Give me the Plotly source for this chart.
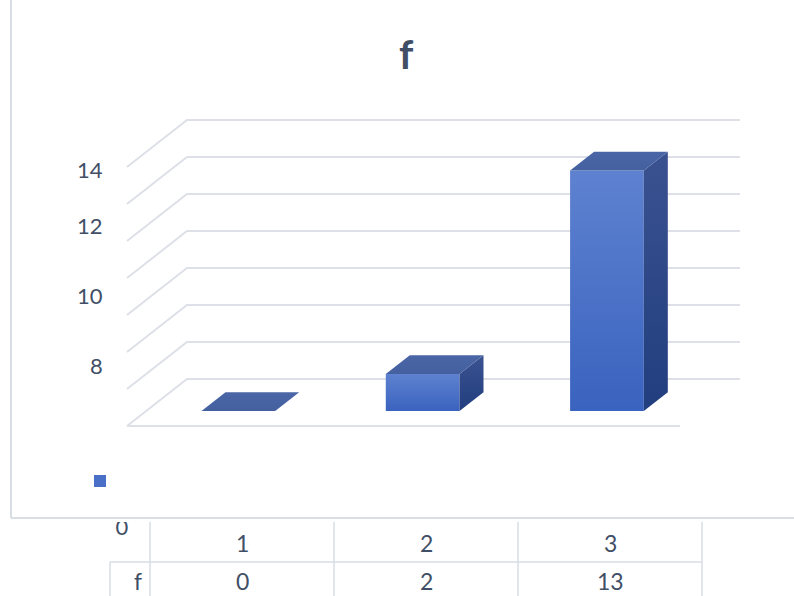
import plotly.graph_objects as go

# ---------------- data ----------------
categories = ["1", "2", "3"]
series_name = "f"
values = [0, 2, 13]
grid_values = [0, 2, 4, 6, 8, 10, 12, 14]
tick_labels = ["14", "12", "10", "8"]
table_header = "0"

# ---------------- style / geometry ----------------
W, H = 794, 596
PX_X = 184.3          # pixels per category
PX_Y = 18.5           # pixels per value unit
ORIGIN = (127, 426)   # pixel of floor front-left corner
DDX = 60 / PX_X       # depth offset (category units) of the back wall
DDY = 47 / PX_Y       # depth offset (value units) of the back wall
D0, D1 = 0.32, 0.72   # bar depth front/back (fraction of floor depth)
BW = 0.4              # bar width (category units)
GRID = "#DDE0E7"
TXT = "#414F66"
FONT = "Lato"
tick_label_py = [169, 226, 296, 366]

def proj(x, v, d):
    return x + d * DDX, v + d * DDY

fig = go.Figure()

# gridlines: back wall and left side wall
for g in grid_values:
    xa, ya = proj(0, g, 1)
    xb, yb = proj(len(categories), g, 1)
    xs, ys = proj(0, g, 0)
    fig.add_trace(go.Scatter(x=[xs, xa, xb], y=[ys, ya, yb], mode="lines",
                             line=dict(color=GRID, width=2), hoverinfo="skip",
                             showlegend=False))
# floor front edge
fig.add_trace(go.Scatter(x=[0, len(categories)], y=[0, 0], mode="lines",
                         line=dict(color=GRID, width=2), hoverinfo="skip",
                         showlegend=False))

def poly(pts, grad):
    xs = [p[0] for p in pts] + [pts[0][0]]
    ys = [p[1] for p in pts] + [pts[0][1]]
    return go.Scatter(x=xs, y=ys, mode="lines", fill="toself",
                      line=dict(width=0, color=grad[-1][1]),
                      fillgradient=dict(type="vertical", colorscale=grad),
                      hoverinfo="skip", showlegend=False)

FRONT = [[0, "#3A63BF"], [1, "#5E82D0"]]
TOP = [[0, "#44609F"], [1, "#4B66A6"]]
SIDE = [[0, "#213E7E"], [1, "#3B5290"]]

for i, v in enumerate(values):
    xl = i + 0.5 - BW / 2
    xr = i + 0.5 + BW / 2
    if v > 0:
        fig.add_trace(poly([proj(xl, 0, D0), proj(xr, 0, D0), proj(xr, v, D0), proj(xl, v, D0)], FRONT))
        fig.add_trace(poly([proj(xr, 0, D0), proj(xr, 0, D1), proj(xr, v, D1), proj(xr, v, D0)], SIDE))
    fig.add_trace(poly([proj(xl, v, D0), proj(xr, v, D0), proj(xr, v, D1), proj(xl, v, D1)], TOP))

# clipped header "0" of the data table (second, pixel-based subplot)
fig.add_trace(go.Scatter(x=[122], y=[529], mode="text", text=[table_header],
                         textfont=dict(family=FONT, size=22, color=TXT),
                         cliponaxis=True, xaxis="x2", yaxis="y2",
                         hoverinfo="skip", showlegend=False))

x0 = -ORIGIN[0] / PX_X
x1 = (W - ORIGIN[0]) / PX_X
y0 = (ORIGIN[1] - H) / PX_Y
y1 = ORIGIN[1] / PX_Y

def py(p):
    return 1 - p / H

def px(p):
    return p / W

def txt(text, x, y, size, xanchor="center"):
    return dict(text=text, x=px(x), y=py(y), xref="paper", yref="paper",
                xanchor=xanchor, yanchor="middle", showarrow=False,
                font=dict(family=FONT, size=size, color=TXT))

annotations = [txt("<b>" + series_name + "</b>", 406, 54, 40)]
for lab, p in zip(tick_labels, tick_label_py):
    annotations.append(txt(lab, 105, p, 22, "right"))
# data table
col_edges = [150, 334, 518, 702]
for j, c in enumerate(categories):
    cx = (col_edges[j] + col_edges[j + 1]) / 2
    annotations.append(txt(c, cx, 543, 23))
    annotations.append(txt(str(values[j]), cx, 581, 23))
annotations.append(txt(series_name, 144, 581, 23, "right"))

shapes = []
LC = "#D9DDE4"
for e in col_edges:
    shapes.append(dict(type="line", xref="paper", yref="paper", x0=px(e), x1=px(e), y0=py(522), y1=py(600),
                       line=dict(color=LC, width=1.5)))
shapes.append(dict(type="line", xref="paper", yref="paper", x0=px(110), x1=px(702), y0=py(562), y1=py(562),
                   line=dict(color=LC, width=1.5)))
shapes.append(dict(type="line", xref="paper", yref="paper", x0=px(110), x1=px(110), y0=py(562), y1=py(600),
                   line=dict(color=LC, width=1.5)))
# chart area border
shapes.append(dict(type="line", xref="paper", yref="paper", x0=px(11), x1=px(11), y0=py(-5), y1=py(518),
                   line=dict(color=LC, width=2)))
shapes.append(dict(type="line", xref="paper", yref="paper", x0=px(11), x1=px(800), y0=py(518), y1=py(518),
                   line=dict(color=LC, width=2)))
# legend key
shapes.append(dict(type="rect", xref="paper", yref="paper", x0=px(94), x1=px(106), y0=py(487), y1=py(475),
                   fillcolor="#4A6FC6", line=dict(width=0)))

fig.update_layout(
    width=W, height=H, margin=dict(l=0, r=0, t=0, b=0),
    paper_bgcolor="white", plot_bgcolor="rgba(0,0,0,0)",
    xaxis=dict(range=[x0, x1], visible=False, domain=[0, 1], fixedrange=True),
    yaxis=dict(range=[y0, y1], visible=False, domain=[0, 1], fixedrange=True),
    xaxis2=dict(range=[0, W], visible=False, domain=[0, 1], anchor="y2"),
    yaxis2=dict(range=[H, 522], visible=False, domain=[0, py(522)], anchor="x2"),
    annotations=annotations, shapes=shapes, showlegend=False,
)

fig.write_html("out.html")
